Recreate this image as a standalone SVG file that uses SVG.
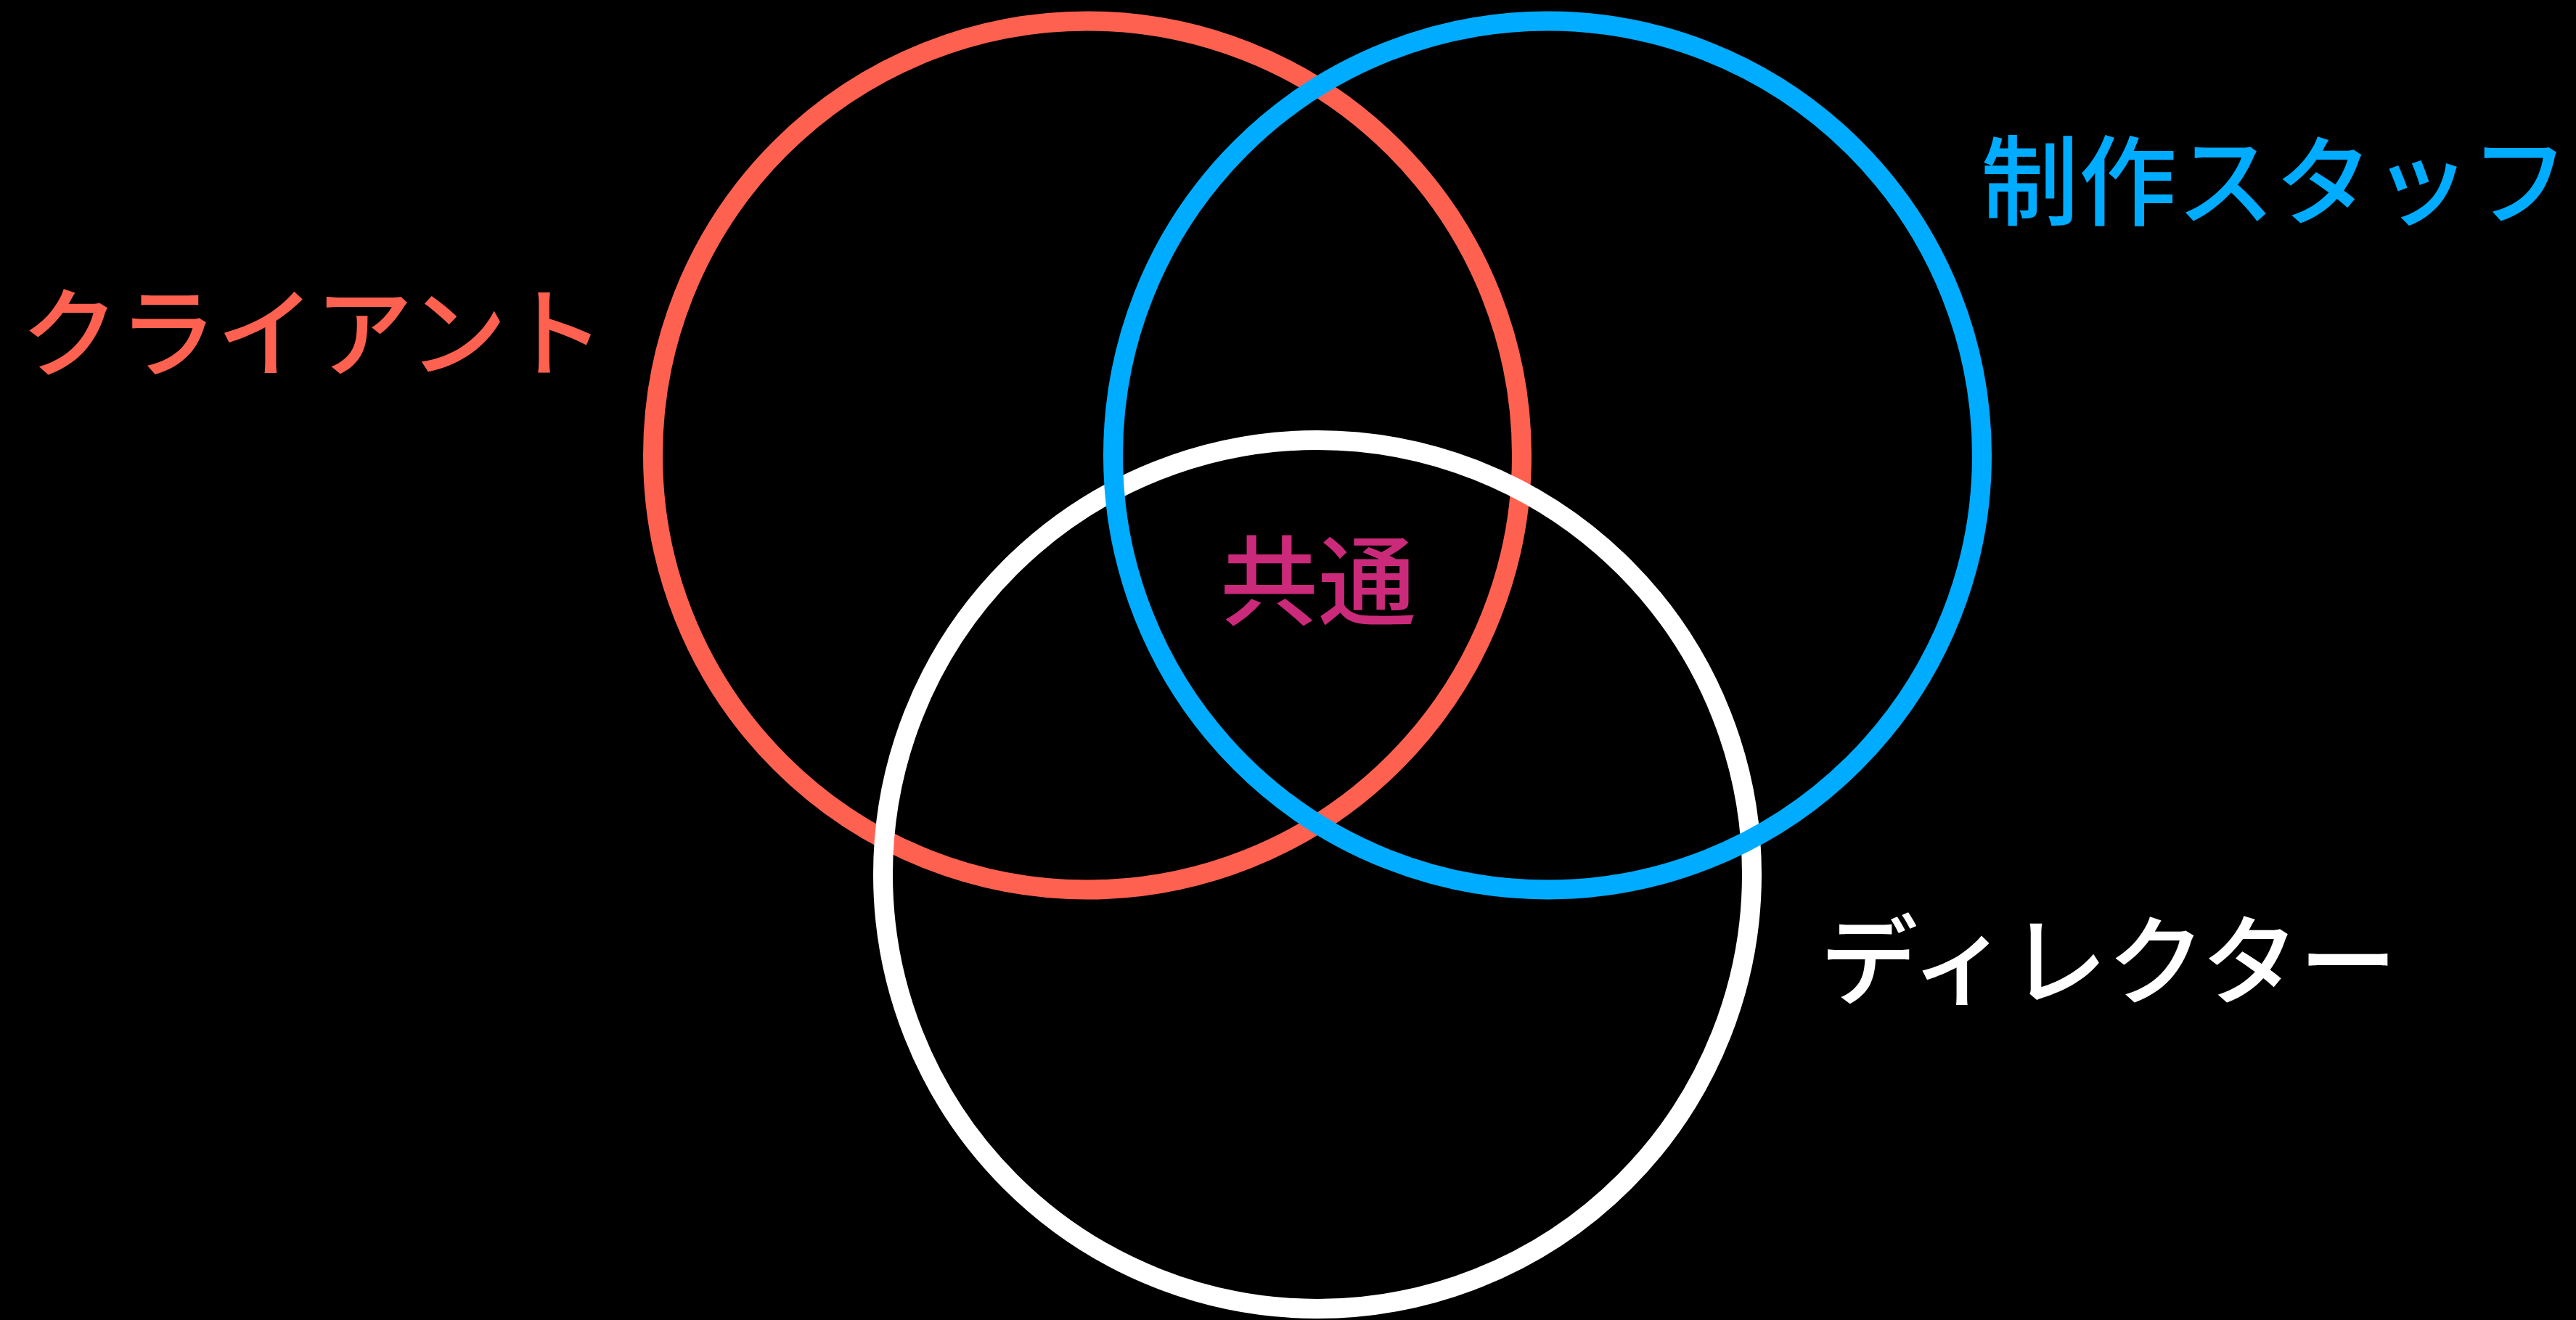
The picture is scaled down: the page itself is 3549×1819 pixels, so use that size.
<svg xmlns="http://www.w3.org/2000/svg" width="3549" height="1819" viewBox="0 0 3549 1819">
  <style>
    .ring { fill: none; stroke-width: 27; }
    .lbl { font-family: "Noto Sans CJK JP", "Noto Sans", sans-serif; font-size: 135px; font-weight: 500; text-anchor: middle; }
  </style>
  <rect x="0" y="0" width="3549" height="1819" fill="#000000"/>
  <g id="client">
    <circle class="ring" cx="1498" cy="627.5" r="598.5" stroke="#FF6150"/>
    <text class="lbl" x="431" y="509" fill="#FF6150">クライアント</text>
  </g>
  <g id="director">
    <circle class="ring" cx="1815" cy="1205" r="598.5" stroke="#FFFFFF"/>
    <text class="lbl" x="2905" y="1374" fill="#FFFFFF">ディレクター</text>
  </g>
  <g id="staff">
    <circle class="ring" cx="2132" cy="627.5" r="598.5" stroke="#00ACFF"/>
    <text class="lbl" x="3134" y="300" fill="#00ACFF">制作スタッフ</text>
  </g>
  <g id="common">
    <text class="lbl" x="1816" y="851" fill="#CB2A7B">共通</text>
  </g>
</svg>
